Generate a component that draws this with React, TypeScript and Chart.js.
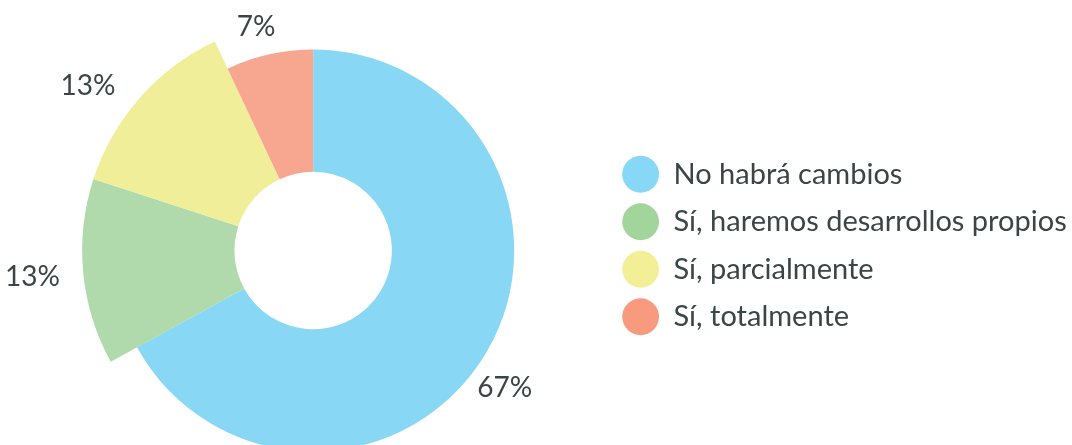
import React, { useEffect, useRef } from "react";
import { Chart, registerables } from "chart.js";

Chart.register(...registerables);

const categories = [
  "No habrá cambios",
  "Sí, haremos desarrollos propios",
  "Sí, parcialmente",
  "Sí, totalmente",
];
const shares = [67, 13, 13, 7];
const shareLabels = ["67%", "13%", "13%", "7%"];

const sliceColors = ["#88d8f5", "#b0daac", "#f1ee99", "#f7a78f"];
const legendColors = ["#87d7f6", "#a2d59b", "#f2ef97", "#f89a7d"];
const raisedSlices = [false, true, true, false];

const TEXT_COLOR = "#3c4545";
const FONT = "Lato, 'Open Sans', sans-serif";

const raisePlugin = {
  id: "raiseSlices",
  afterDatasetsUpdate(chart: any, _args: any, opts: any) {
    const meta = chart.getDatasetMeta(0);
    meta.data.forEach((arc: any, i: number) => {
      if (!opts.raised[i]) arc.outerRadius = arc.outerRadius - opts.drop;
    });
  },
};

const labelPlugin = {
  id: "sliceLabels",
  afterDatasetsDraw(chart: any, _args: any, opts: any) {
    const ctx = chart.ctx;
    const meta = chart.getDatasetMeta(0);
    ctx.save();
    ctx.font = `${opts.size}px ${FONT}`;
    ctx.fillStyle = TEXT_COLOR;
    ctx.textAlign = "center";
    ctx.textBaseline = "middle";
    meta.data.forEach((arc: any, i: number) => {
      const mid = (arc.startAngle + arc.endAngle) / 2 + (opts.angleShift[i] * Math.PI) / 180;
      const r = arc.outerRadius + opts.gap[i];
      ctx.fillText(opts.texts[i], arc.x + r * Math.cos(mid), arc.y + r * Math.sin(mid));
    });
    ctx.restore();
  },
};

export default function App() {
  const ref = useRef<HTMLCanvasElement | null>(null);

  useEffect(() => {
    document.body.style.margin = "0";
    const canvas = ref.current;
    if (!canvas) return;
    const chart = new Chart(canvas, {
      type: "doughnut",
      data: {
        labels: categories,
        datasets: [
          {
            data: shares,
            backgroundColor: sliceColors,
            borderWidth: 0,
            radius: 231,
            cutout: "34.07%",
          },
        ],
      },
      plugins: [raisePlugin, labelPlugin],
      options: {
        animation: false,
        responsive: true,
        maintainAspectRatio: false,
        events: [],
        layout: { padding: { top: 56, bottom: 0, left: 22.6, right: -4.7 } },
        plugins: {
          tooltip: { enabled: false },
          raiseSlices: { raised: raisedSlices, drop: 30 },
          sliceLabels: {
            texts: shareLabels,
            size: 28,
            angleShift: [5.1, 0, -5.2, -1.7],
            gap: [35, 51, 48, 30],
          },
          legend: {
            position: "right",
            title: {
              display: true,
              text: "",
              font: { size: 1, lineHeight: 1 },
              padding: -5.5,
            },
            labels: {
              usePointStyle: true,
              pointStyle: "circle",
              boxHeight: 26,
              pointStyleWidth: 36.8,
              padding: 18.5,
              color: TEXT_COLOR,
              font: { family: FONT, size: 29 },
              generateLabels: (c: any) => {
                const base = (Chart as any).overrides.doughnut.plugins.legend.labels.generateLabels(c);
                return base.map((item: any, i: number) => ({
                  ...item,
                  fillStyle: legendColors[i],
                  strokeStyle: legendColors[i],
                  lineWidth: 0,
                  pointStyle: "circle",
                }));
              },
            },
          },
        },
      } as any,
    });
    return () => chart.destroy();
  }, []);

  return (
    <div style={{ width: 1072, height: 445, position: "relative" }}>
      <canvas ref={ref} />
    </div>
  );
}
